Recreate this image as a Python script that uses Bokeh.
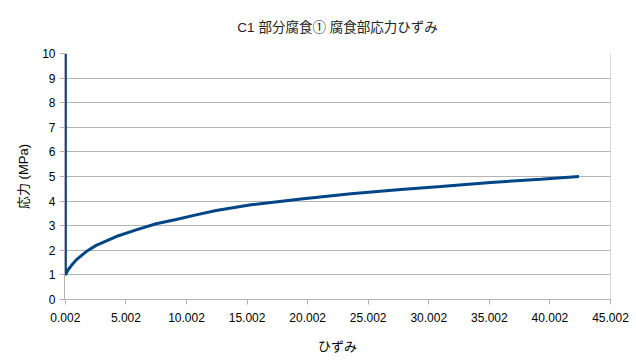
from bokeh.plotting import figure
from bokeh.models import FixedTicker, Span, ColumnDataSource
from bokeh.embed import file_html
from bokeh.resources import INLINE

# data
strain = [0.002, 0.002, 0.25, 0.5, 0.9, 1.73, 2.55, 4.2, 5.85, 7.5, 9.15, 10.8, 12.45,
          15.33, 19.46, 23.58, 27.7, 31.0, 35.12, 39.24, 42.4]
stress = [10.0, 1.0, 1.22, 1.38, 1.61, 1.95, 2.2, 2.56, 2.83, 3.08, 3.25, 3.44, 3.62,
          3.85, 4.09, 4.3, 4.47, 4.59, 4.76, 4.89, 5.0]
x_ticks = [0.002, 5.002, 10.002, 15.002, 20.002, 25.002, 30.002, 35.002, 40.002, 45.002]
x_tick_labels = ["0.002", "5.002", "10.002", "15.002", "20.002", "25.002",
                 "30.002", "35.002", "40.002", "45.002"]
y_ticks = [0, 1, 2, 3, 4, 5, 6, 7, 8, 9, 10]

FONT = "Liberation Sans, Noto Sans CJK JP, sans-serif"
GRID = "#b3b3b3"

p = figure(width=636, height=361, output_backend="svg", toolbar_location=None,
           x_range=(0.002 - 0.07, 45.002), y_range=(0, 10),
           title="C1 部分腐食① 腐食部応力ひずみ",
           min_border_left=64, min_border_right=26, min_border_top=53, min_border_bottom=62)

p.title.align = "center"
p.title.text_font = FONT
p.title.text_font_size = "13.5px"
p.title.text_font_style = "normal"
p.title.text_color = "#222222"
p.title.offset = 0
p.title.standoff = 34
p.title.vertical_align = "top"

p.outline_line_color = None
p.background_fill_color = "white"
p.border_fill_color = "white"

src = ColumnDataSource(dict(x=strain, y=stress))
p.line("x", "y", source=src, line_color="#004586", line_width=3)

p.xaxis.ticker = FixedTicker(ticks=x_ticks)
p.xaxis.major_label_overrides = {t: l for t, l in zip(x_ticks, x_tick_labels)}
p.yaxis.ticker = FixedTicker(ticks=y_ticks)

for ax in (p.xaxis, p.yaxis):
    ax.axis_line_color = GRID
    ax.major_tick_line_color = GRID
    ax.minor_tick_line_color = None
    ax.major_tick_out = 5
    ax.major_tick_in = 0
    ax.major_label_text_font = FONT
    ax.major_label_text_font_size = "12px"
    ax.major_label_text_color = "#000000"
    ax.axis_label_text_font = FONT
    ax.axis_label_text_font_size = "13px"
    ax.axis_label_text_font_style = "normal"
    ax.axis_label_text_color = "#000000"

p.xaxis.axis_label = "ひずみ"
p.yaxis.axis_label = "応力 (MPa)"
p.xaxis.axis_label_standoff = 14
p.yaxis.axis_label_standoff = 8
p.xaxis.major_label_standoff = 8
p.yaxis.major_label_standoff = 4

p.xgrid.grid_line_color = None
p.ygrid.grid_line_color = GRID
p.ygrid.grid_line_width = 1

p.add_layout(Span(location=45.002, dimension="height", line_color=GRID, line_width=1))

open("out.html", "w").write(file_html(p, INLINE))
